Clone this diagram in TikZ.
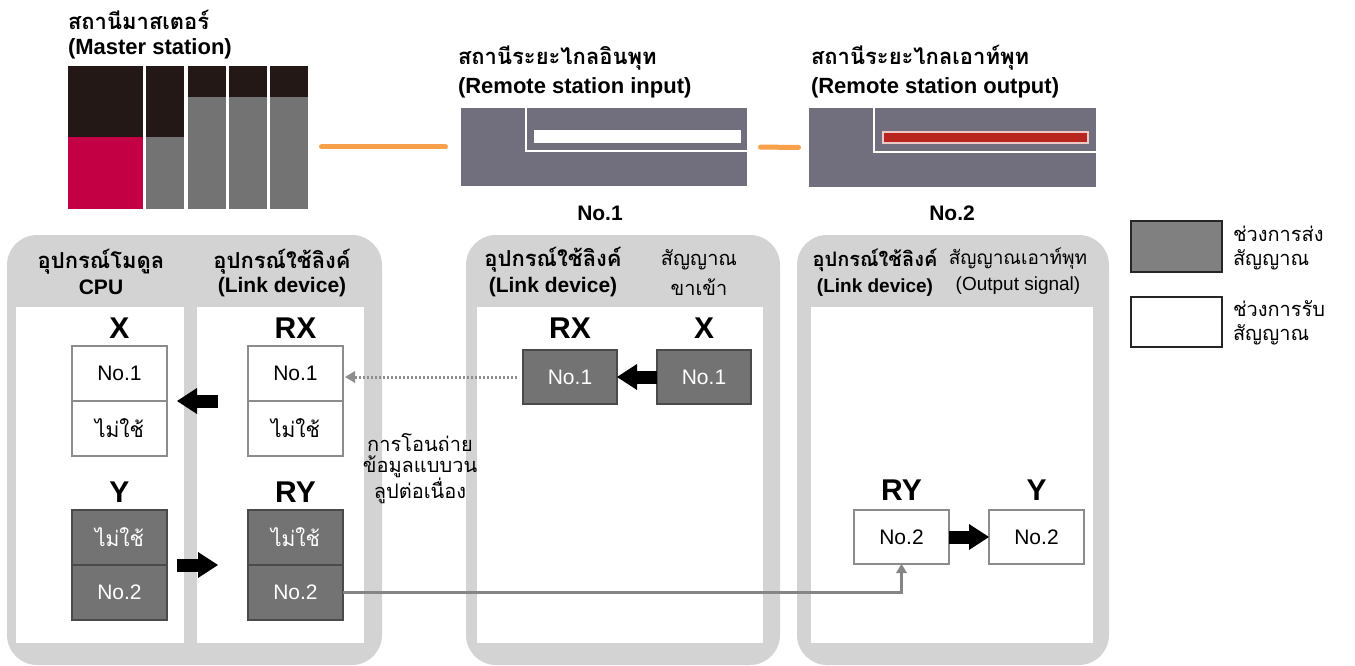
\documentclass[tikz,border=0pt]{standalone}
\usepackage{fontspec}
\setmainfont{Liberation Sans}
\newfontfamily\thai[Script=Thai]{Loma}
\usetikzlibrary{arrows.meta}
\definecolor{mdark}{HTML}{231816}
\definecolor{mred}{HTML}{C30043}
\definecolor{mgray}{HTML}{737373}
\definecolor{rbox}{HTML}{716F7D}
\definecolor{rred}{HTML}{B8241E}
\definecolor{orng}{HTML}{F9A04B}
\definecolor{panelgray}{HTML}{D3D3D3}
\definecolor{celldark}{HTML}{737373}
\definecolor{celledge}{HTML}{4A4A4A}
\definecolor{cellline}{HTML}{8C8C8C}
\definecolor{conn}{HTML}{858585}
\definecolor{dotc}{HTML}{8E8E8E}
\newcommand{\fsz}[1]{\fontsize{#1}{#1}\selectfont}
\begin{document}
\begin{tikzpicture}[x=1pt,y=-1pt,
  every node/.style={inner sep=0pt, outer sep=0pt},
  ttl/.style={anchor=west, font=\bfseries\fsz{22}},
  thttl/.style={anchor=west, font=\thai\bfseries\fsz{22}},
  hb/.style={font=\bfseries\fsz{21}},
  thb/.style={font=\thai\bfseries\fsz{22}},
  hr/.style={font=\fsz{20}},
  thr/.style={font=\thai\fsz{20}},
  big/.style={font=\bfseries\fsz{30}},
  cellw/.style={draw=cellline, fill=white, line width=1.2pt, minimum width=95, minimum height=55, font=\fsz{21}},
  celld/.style={draw=celledge, fill=celldark, text=white, line width=1.2pt, minimum width=95, minimum height=55, font=\fsz{21}},
  blockarrow/.style={draw=black, line width=13pt, -{Triangle[length=20pt,width=26pt,line width=0pt]}},
  dotarrow/.style={draw=dotc, line width=3pt, dash pattern=on 2.5pt off 1.5pt, -{Triangle[length=10pt,width=12pt,line width=0pt]}},
  connarrow/.style={draw=conn, line width=2.5pt, -{Triangle[length=9pt,width=11pt,line width=0pt]}},
  orangeline/.style={draw=orng, line width=5pt, line cap=round}
]
\useasboundingbox (0,0) rectangle (1355,666);

% ---------- master station ----------
\node[thttl] (mt1) at (68,20) {สถานีมาสเตอร์};
\node[ttl] (mt2) at (68,49) {(Master station)};
\node[anchor=north west, minimum width=240, minimum height=143] (master) at (68,66) {};
\fill[mdark] (68,66) rectangle (143,137);
\fill[mred] (68,137) rectangle (143,209);
\fill[mdark] (146,66) rectangle (184,137);
\fill[mgray] (146,137) rectangle (184,209);
\foreach \xx in {188,229,270}{
  \fill[mdark] (\xx,66) rectangle (\xx+38,97);
  \fill[mgray] (\xx,97) rectangle (\xx+38,209);
}

% ---------- remote input ----------
\node[thttl] (rit1) at (458,58) {สถานีระยะไกลอินพุท};
\node[ttl] (rit2) at (458,88) {(Remote station input)};
\node[fill=rbox, anchor=north west, minimum width=286, minimum height=78] (ri) at (461,108) {};
\draw[white, line width=1.5pt] (526,108) -- (526,151) -- (747,151);
\fill[white] (534,130) rectangle (741,143);
\node[font=\bfseries\fsz{21}] (no1) at (600,213) {No.1};

% ---------- remote output ----------
\node[thttl] (rot1) at (811,58) {สถานีระยะไกลเอาท์พุท};
\node[ttl] (rot2) at (811,88) {(Remote station output)};
\node[fill=rbox, anchor=north west, minimum width=287, minimum height=79] (ro) at (809,108) {};
\draw[white, line width=1.5pt] (874,108) -- (874,152) -- (1096,152);
\draw[white!75!rred, line width=1.5pt, fill=rred] (883,132) rectangle (1088,143);
\node[font=\bfseries\fsz{21}] (no2) at (952,213) {No.2};

% orange links
\draw[orangeline, shorten <=15.5pt, shorten >=13.5pt] (ri.west) -- (ri.west -| master.east);
\draw[orangeline, shorten <=10.5pt, shorten >=13.5pt] (ro.west) -- (ri.east);

% ---------- panels ----------
\fill[panelgray, rounded corners=30pt] (7,235) rectangle (382,665);
\fill[white] (16,307) rectangle (184,643);
\fill[white] (197,307) rectangle (364,643);
\fill[panelgray, rounded corners=30pt] (466,235) rectangle (780,665);
\fill[white] (477,307) rectangle (763,643);
\fill[panelgray, rounded corners=30pt] (797,235) rectangle (1109,665);
\fill[white] (811,307) rectangle (1093,643);

% panel 1 headers
\node[thb] (h1a) at (101,262) {อุปกรณ์โมดูล};
\node[hb] (h1b) at (101,287) {CPU};
\node[thb] (h2a) at (282,262) {อุปกรณ์ใช้ลิงค์};
\node[hb] (h2b) at (282,287) {(Link device)};
% panel 2 headers
\node[thb] (h3a) at (553,260) {อุปกรณ์ใช้ลิงค์};
\node[hb] (h3b) at (553,287) {(Link device)};
\node[thr] (h4a) at (699,260) {สัญญาณ};
\node[thr] (h4b) at (699,287) {ขาเข้า};
% panel 3 headers
\node[font=\thai\bfseries\fsz{20}] (h5a) at (875,260) {อุปกรณ์ใช้ลิงค์};
\node[font=\bfseries\fsz{19}] (h5b) at (875,288) {(Link device)};
\node[font=\thai\fsz{19}] (h6a) at (1018,259) {สัญญาณเอาท์พุท};
\node[font=\fsz{19}] (h6b) at (1018,286) {(Output signal)};

% panel 1 content
\node[big] (lx) at (119.5,328) {X};
\node[big] (lrx) at (295.5,328) {RX};
\node[big] (ly) at (119.5,492) {Y};
\node[big] (lry) at (295.5,492) {RY};
\node[cellw] (x1) at (119.5,373.5) {No.1};
\node[cellw] (x2) at (119.5,428.5) {\thai ไม่ใช้};
\node[cellw] (rx1) at (295.5,373.5) {No.1};
\node[cellw] (rx2) at (295.5,428.5) {\thai ไม่ใช้};
\node[celld] (y1) at (119.5,537.5) {\thai ไม่ใช้};
\node[celld] (y2) at (119.5,592.5) {No.2};
\node[celld] (ry1) at (295.5,537.5) {\thai ไม่ใช้};
\node[celld] (ry2) at (295.5,592.5) {No.2};

% panel 2 content
\node[big] (ilrx) at (570,328) {RX};
\node[big] (ilx) at (704,328) {X};
\node[celld, minimum width=94, minimum height=54] (irx) at (570,377) {No.1};
\node[celld, minimum width=94, minimum height=54] (ix) at (704,377) {No.1};

% panel 3 content
\node[big] (olry) at (901.5,490) {RY};
\node[big] (oly) at (1036.5,490) {Y};
\node[cellw, minimum height=54] (ory) at (901.5,537) {No.2};
\node[cellw, minimum height=54] (oy) at (1036.5,537) {No.2};

% transfer text
\node[thr] (tr1) at (420,443) {การโอนถ่าย};
\node[thr] (tr2) at (420,467) {ข้อมูลแบบวน};
\node[thr] (tr3) at (420,491) {ลูปต่อเนื่อง};

% legend
\node[draw=black!85, fill=black!50, line width=1.5pt, minimum width=91, minimum height=51, anchor=north west] (lg1) at (1131,221) {};
\node[draw=black!85, fill=white, line width=1.5pt, minimum width=91, minimum height=50, anchor=north west] (lg2) at (1131,297) {};
\node[thr, anchor=west] (lt1) at (1233,234) {ช่วงการส่ง};
\node[thr, anchor=west] (lt2) at (1233,260) {สัญญาณ};
\node[thr, anchor=west] (lt3) at (1233,309) {ช่วงการรับ};
\node[thr, anchor=west] (lt4) at (1233,335) {สัญญาณ};

% connectors
\draw[blockarrow, shorten <=30pt, shorten >=10pt] (rx1.south west) -- (x1.south east);
\draw[blockarrow, shorten <=10pt, shorten >=30pt] (y1.south east) -- (ry1.south west);
\draw[blockarrow] (ix.west) -- (irx.east);
\draw[blockarrow] (ory.east) -- (oy.west);
\draw[dotarrow, shorten <=6pt, shorten >=2pt] (irx.west) -- (irx.west -| rx1.east);
\draw[connarrow] (ry2.east) -| (ory.south);
\end{tikzpicture}
\end{document}
